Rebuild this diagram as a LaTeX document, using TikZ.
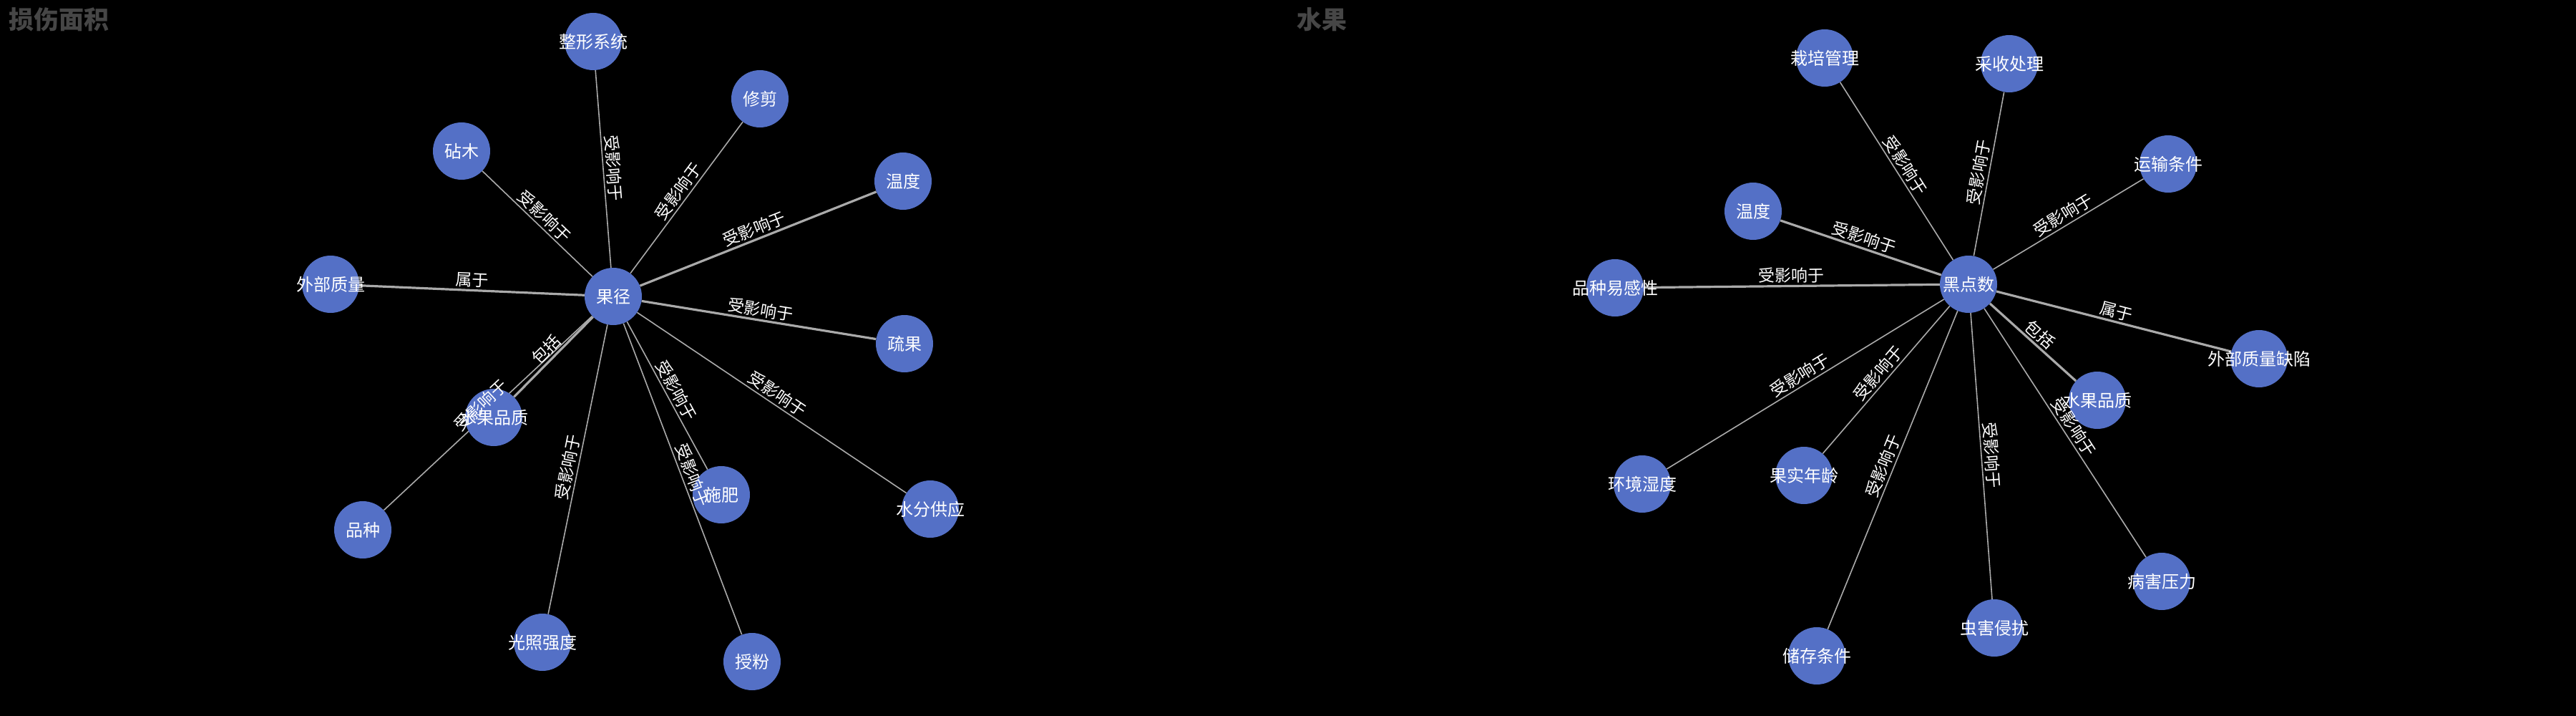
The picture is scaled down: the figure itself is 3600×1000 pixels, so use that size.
\documentclass[tikz,border=0pt]{standalone}
\usepackage{fontspec}
\setmainfont{Noto Sans CJK SC}
\usepackage{tikz}
\definecolor{nodeblue}{HTML}{5470C6}
\definecolor{edgegray}{HTML}{AAAAAA}
\definecolor{titlegray}{HTML}{464646}
\pgfdeclarelayer{bg}
\pgfdeclarelayer{edges}
\pgfsetlayers{bg,edges,main}
\tikzset{
  ent/.style={circle, fill=nodeblue, minimum size=80pt, inner sep=0pt, label={[nodetext]center:#1}},
  nodetext/.style={text=white, inner sep=0pt, font=\fontsize{24}{24}\selectfont},
  edge/.style={draw=edgegray, line width=1.6pt},
  heavy/.style={line width=3.2pt},
  lbl/.style={midway, sloped, above=3pt, inner sep=1pt, text=white, font=\fontsize{23}{23}\selectfont},
  heading/.style={anchor=north west, inner sep=0pt, text=titlegray, font=\fontsize{35}{35}\selectfont\bfseries}
}
\newcommand\link[4][]{%
  \begin{pgfonlayer}{edges}\draw[edge,#1] (#2) -- (#3);\end{pgfonlayer}
  \path (#2) -- (#3) node[lbl] {#4};}

\begin{document}
\begin{tikzpicture}[x=1pt, y=-1pt]
    \begin{pgfonlayer}{bg}
    \fill[black] (0,0) rectangle (3600,1000);
    \end{pgfonlayer}
    \node[heading] (title1) at (12,10) {损伤面积};
    \node[heading] (title2) at (1812,10) {水果};

    \node[ent=果径] (gj) at (857,414) {};
    \node[ent=整形系统] (zxxt) at (829,58) {};
    \node[ent=修剪] (xj) at (1062,138) {};
    \node[ent=砧木] (zm) at (645,211) {};
    \node[ent=温度] (wd) at (1262,253) {};
    \node[ent=外部质量] (wbzl) at (462,397) {};
    \node[ent=疏果] (sg) at (1264,480) {};
    \node[ent=水果品质] (sgpz) at (690,583) {};
    \node[ent=品种] (pz) at (507,740) {};
    \node[ent=光照强度] (gzqd) at (758,897) {};
    \node[ent=授粉] (shf) at (1051,924) {};
    \node[ent=施肥] (sf) at (1008,691) {};
    \node[ent=水分供应] (sfgy) at (1300,711) {};

    \link{gj}{zxxt}{受影响于}
    \link{gj}{xj}{受影响于}
    \link{gj}{zm}{受影响于}
    \link[heavy]{gj}{wd}{受影响于}
    \link[heavy]{gj}{wbzl}{属于}
    \link[heavy]{gj}{sg}{受影响于}
    \link[heavy]{gj}{sgpz}{包括}
    \link{gj}{pz}{受影响于}
    \link{gj}{gzqd}{受影响于}
    \link{gj}{shf}{受影响于}
    \link{gj}{sf}{受影响于}
    \link{gj}{sfgy}{受影响于}

    \node[ent=黑点数] (hds) at (2751,397) {};
    \node[ent=栽培管理] (zpgl) at (2550,81) {};
    \node[ent=采收处理] (sscl) at (2808,89) {};
    \node[ent=运输条件] (ystj) at (3030,229) {};
    \node[ent=温度] (wd2) at (2450,295) {};
    \node[ent=品种易感性] (pzygx) at (2257,402) {};
    \node[ent=外部质量缺陷] (wbzlqx) at (3157,501) {};
    \node[ent=水果品质] (sgpz2) at (2931,559) {};
    \node[ent=环境湿度] (hjsd) at (2295,676) {};
    \node[ent=果实年龄] (gsnl) at (2521,664) {};
    \node[ent=储存条件] (cctj) at (2539,916) {};
    \node[ent=虫害侵扰] (chqr) at (2787,877) {};
    \node[ent=病害压力] (bhyl) at (3021,812) {};

    \link{hds}{zpgl}{受影响于}
    \link{hds}{sscl}{受影响于}
    \link{hds}{ystj}{受影响于}
    \link[heavy]{hds}{wd2}{受影响于}
    \link[heavy]{hds}{pzygx}{受影响于}
    \link[heavy]{hds}{wbzlqx}{属于}
    \link[heavy]{hds}{sgpz2}{包括}
    \link{hds}{hjsd}{受影响于}
    \link{hds}{gsnl}{受影响于}
    \link{hds}{cctj}{受影响于}
    \link{hds}{chqr}{受影响于}
    \link{hds}{bhyl}{受影响于}
\end{tikzpicture}
\end{document}
